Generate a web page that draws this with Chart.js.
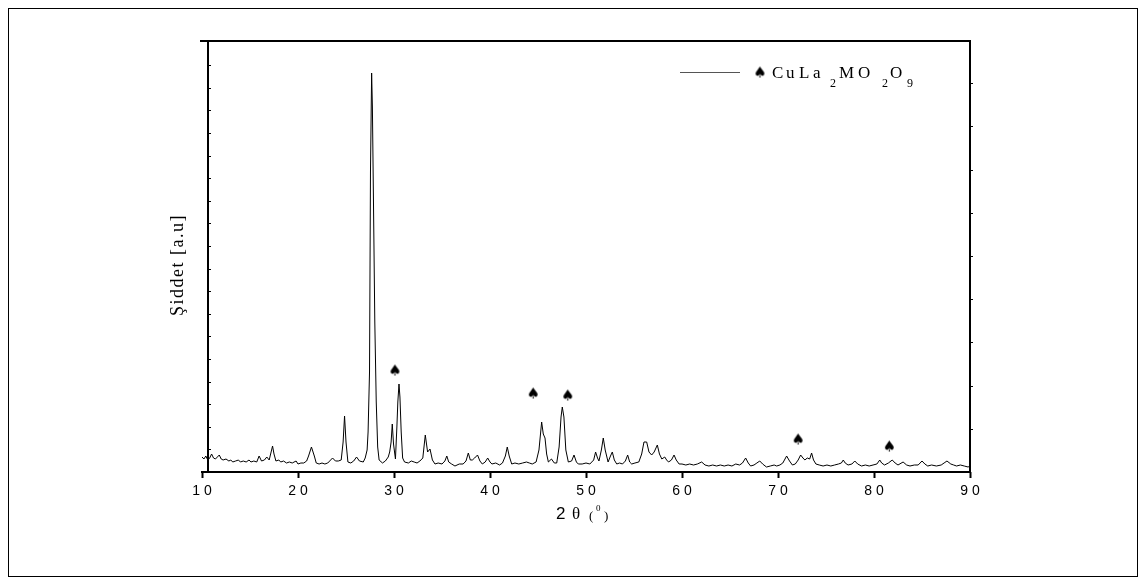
<!DOCTYPE html>
<html>
<head>
<meta charset="utf-8">
<script src="https://cdn.jsdelivr.net/npm/chart.js@4.4.1/dist/chart.umd.min.js"></script>
<style>
html,body{margin:0;padding:0;background:#fff;}
#c{display:block;}
</style>
</head>
<body>
<canvas id="c" width="1146" height="585"></canvas>
<script>
// ---- data (2θ in degrees, intensity in arbitrary units) ----
const twoTheta = [
10.0,10.2,10.4,10.6,10.8,11.0,11.2,11.4,11.6,11.8,12.0,12.2,12.5,12.8,13.0,13.2,13.5,13.8,14.0,14.3,14.6,14.9,15.1,15.4,15.7,15.95,16.2,16.5,16.75,17.0,17.2,17.35,17.5,17.7,18.0,18.2,18.5,18.8,19.1,19.4,19.8,20.0,20.3,20.6,20.9,21.1,21.4,21.7,21.9,22.2,22.5,22.8,23.1,23.4,23.6,23.9,24.2,24.5,24.7,24.85,25.0,25.2,25.5,25.8,26.1,26.4,26.8,27.0,27.2,27.3,27.45,27.55,27.67,27.75,27.85,28.0,28.15,28.3,28.45,28.8,29.1,29.4,29.55,29.7,29.82,29.95,30.15,30.3,30.4,30.52,30.62,30.75,30.9,31.1,31.5,31.8,32.1,32.4,32.7,33.0,33.26,33.5,33.75,34.0,34.27,34.6,35.0,35.3,35.5,35.7,36.0,36.35,36.8,37.2,37.5,37.74,37.95,38.16,38.4,38.7,38.95,39.2,39.5,39.76,40.0,40.2,40.6,41.0,41.3,41.6,41.8,42.0,42.26,42.6,43.0,43.4,43.8,44.1,44.4,44.8,45.1,45.38,45.55,45.73,45.9,46.08,46.4,46.7,46.95,47.2,47.4,47.53,47.7,47.9,48.16,48.5,48.75,49.0,49.2,49.6,50.0,50.4,50.8,51.0,51.2,51.35,51.6,51.8,52.0,52.3,52.55,52.74,52.95,53.2,53.5,53.8,54.1,54.34,54.55,54.76,55.1,55.5,55.8,56.04,56.32,56.56,56.84,57.1,57.43,57.65,57.9,58.2,58.4,58.6,58.9,59.17,59.4,59.7,60.0,60.4,60.8,61.2,61.6,62.05,62.4,62.8,63.2,63.6,64.0,64.4,64.8,65.2,65.6,66.0,66.3,66.63,66.9,67.15,67.5,67.8,68.1,68.4,68.8,69.2,69.6,69.86,70.2,70.5,70.9,71.2,71.5,71.8,72.1,72.36,72.6,72.8,73.05,73.3,73.5,73.7,73.95,74.3,74.7,75.1,75.5,75.9,76.3,76.6,76.8,77.0,77.3,77.7,78.0,78.3,78.7,79.1,79.5,79.9,80.3,80.6,80.8,81.1,81.5,81.9,82.2,82.5,83.03,83.4,83.75,84.2,84.6,85.0,85.3,85.6,86.0,86.5,87.0,87.3,87.6,88.0,88.3,88.6,89.0,89.4,89.8,90.0
];
const intensity = [
15,13,16,12,14,18,14,13,15,17,13,12,13,11,12,10,11,12,10,11,10,12,10,11,10,16,11,12,15,12,20,26,18,11,12,10,11,9,10,9,11,8,9,9,11,16,25,16,9,8,9,8,9,12,14,11,11,12,30,56,30,10,9,11,15,11,10,14,22,40,100,300,399,365,280,150,70,25,12,9,11,15,20,30,48,28,13,45,70,88,75,40,14,10,9,11,10,9,11,14,37,20,23,12,8,9,8,11,16,10,8,6,8,8,11,19,12,12,14,17,11,8,10,14,10,8,9,7,9,16,25,16,8,9,8,9,10,9,8,10,22,50,38,34,18,10,13,9,9,25,55,65,55,22,10,11,17,10,8,8,9,8,12,20,14,11,22,34,22,10,16,20,12,8,9,8,11,17,10,8,9,10,18,30,30,20,17,20,27,18,13,15,12,10,12,17,12,8,8,7,8,7,8,10,7,6,7,6,7,6,7,6,8,7,9,14,9,6,7,9,11,8,5,6,7,6,7,9,16,11,7,8,12,17,14,12,14,13,19,12,8,7,6,7,6,7,8,9,12,9,7,8,11,8,6,7,6,7,8,12,9,7,9,12,9,7,10,7,6,7,7,11,8,6,7,6,7,9,11,8,7,6,7,6,5,6
];
// phase markers (♠ CuLa2MO2O9)
const markerTheta = [30.1, 44.5, 48.1, 72.1, 81.6];
const markerY = [101, 78, 76, 32, 25];
// axis tick values
const xTicks = [10, 20, 30, 40, 50, 60, 70, 80, 90];
const leftMinorStep = 22.6;
const rightMajorStep = 43.2;
const xTitle = '2θ';
const yTitle = 'Şiddet [a.u]';
const legendLabel = ['C','u','L','a','2','M','O','2','O','9'];

const seriesData = twoTheta.map((t, i) => ({x: t, y: intensity[i]}));
const markerData = markerTheta.map((t, i) => ({x: t, y: markerY[i]}));

// spade point image
function spadeImage(size) {
  const c = document.createElement('canvas');
  c.width = size + 4; c.height = size + 4;
  const g = c.getContext('2d');
  g.fillStyle = '#000';
  g.font = size + 'px "DejaVu Sans"';
  g.textAlign = 'center';
  g.textBaseline = 'middle';
  g.fillText('\u2660', c.width / 2, c.height / 2 + 1);
  return c;
}
const spade = spadeImage(15);

const framePlugin = {
  id: 'frame',
  beforeDraw(chart) {
    const ctx = chart.ctx;
    ctx.save();
    ctx.fillStyle = '#fff';
    ctx.fillRect(0, 0, chart.width, chart.height);
    ctx.restore();
  },
  afterDraw(chart) {
    const ctx = chart.ctx;
    const xs = chart.scales.x, ys = chart.scales.y;
    const top = chart.chartArea.top, bottom = chart.chartArea.bottom;
    const left = xs.getPixelForValue(10), right = xs.getPixelForValue(90);
    const yAxisX = xs.getPixelForValue(10.625);
    ctx.save();
    ctx.strokeStyle = '#000';
    // outer frame
    ctx.lineWidth = 1;
    ctx.strokeRect(8.5, 8.5, 1129, 568);
    // plot frame
    ctx.lineWidth = 2;
    ctx.beginPath();
    ctx.moveTo(left - 2, top); ctx.lineTo(right + 1, top);
    ctx.moveTo(yAxisX, top); ctx.lineTo(yAxisX, bottom + 1);
    ctx.moveTo(right, top - 1); ctx.lineTo(right, bottom + 1);
    ctx.moveTo(left - 1, bottom); ctx.lineTo(right + 1, bottom);
    ctx.stroke();
    // left minor ticks (inward), right ticks
    ctx.lineWidth = 1;
    ctx.beginPath();
    for (let v = leftMinorStep; v < ys.max - 2; v += leftMinorStep) {
      const py = Math.round(ys.getPixelForValue(v)) + 0.5;
      ctx.moveTo(yAxisX, py); ctx.lineTo(yAxisX + 3, py);
    }
    for (let v = rightMajorStep; v < ys.max - 2; v += rightMajorStep) {
      const py = Math.round(ys.getPixelForValue(v)) + 0.5;
      ctx.moveTo(right, py); ctx.lineTo(right + 3, py);
    }
    ctx.stroke();

    // legend
    ctx.strokeStyle = '#555';
    ctx.lineWidth = 1;
    ctx.beginPath();
    ctx.moveTo(680, 72.5); ctx.lineTo(740, 72.5);
    ctx.stroke();
    ctx.drawImage(spade, 760 - spade.width / 2, 73 - spade.height / 2);
    ctx.fillStyle = '#000';
    ctx.textAlign = 'left';
    ctx.textBaseline = 'alphabetic';
    const pos = [772, 786, 799, 813, 830, 839, 858, 882, 890, 907];
    const sub = [false, false, false, false, true, false, false, true, false, true];
    legendLabel.forEach((ch, i) => {
      ctx.font = sub[i] ? '12px "Liberation Serif"' : '17px "Liberation Serif"';
      ctx.fillText(ch, pos[i], sub[i] ? 87 : 78);
    });

    // x title
    ctx.font = '17px "Liberation Sans"';
    ctx.fillText(xTitle.charAt(0), 556, 519);
    ctx.font = '17px "Liberation Serif"';
    ctx.fillText(xTitle.charAt(1), 572, 519);
    ctx.font = '13px "Liberation Serif"';
    ctx.fillText('(', 589, 520);
    ctx.font = '9px "Liberation Serif"';
    ctx.fillText('0', 596, 511);
    ctx.font = '13px "Liberation Serif"';
    ctx.fillText(')', 604, 520);

    // y title
    ctx.save();
    ctx.translate(183, 265);
    ctx.rotate(-Math.PI / 2);
    ctx.textAlign = 'center';
    ctx.font = '18px "Liberation Serif"';
    if ('letterSpacing' in ctx) ctx.letterSpacing = '1.5px';
    ctx.fillText(yTitle, 0, 0);
    ctx.restore();
    ctx.restore();
  }
};

new Chart(document.getElementById('c'), {
  type: 'scatter',
  data: {
    datasets: [
      {
        data: seriesData,
        showLine: true,
        borderColor: '#000',
        borderWidth: 1,
        pointRadius: 0,
        tension: 0
      },
      {
        data: markerData,
        showLine: false,
        pointStyle: spade,
        pointRadius: 8
      }
    ]
  },
  options: {
    responsive: false,
    animation: false,
    devicePixelRatio: 1,
    layout: {padding: {left: 202, right: 176, top: 41, bottom: 83}},
    plugins: {legend: {display: false}, tooltip: {enabled: false}},
    scales: {
      x: {
        type: 'linear',
        min: 10, max: 90,
        afterBuildTicks(scale) { scale.ticks = xTicks.map(v => ({value: v})); },
        afterFit(scale) { scale.height = 30; },
        border: {display: false},
        grid: {display: true, drawOnChartArea: false, drawTicks: true, tickLength: 6, tickColor: '#000', tickWidth: 2},
        ticks: {
          color: '#000',
          padding: 5,
          maxRotation: 0,
          autoSkip: false,
          font: {family: '"Liberation Sans"', size: 14},
          callback: v => String(v).split('').join(' ')
        }
      },
      y: {
        type: 'linear',
        min: 0, max: 431,
        display: false
      }
    }
  },
  plugins: [framePlugin]
});
</script>
</body>
</html>
